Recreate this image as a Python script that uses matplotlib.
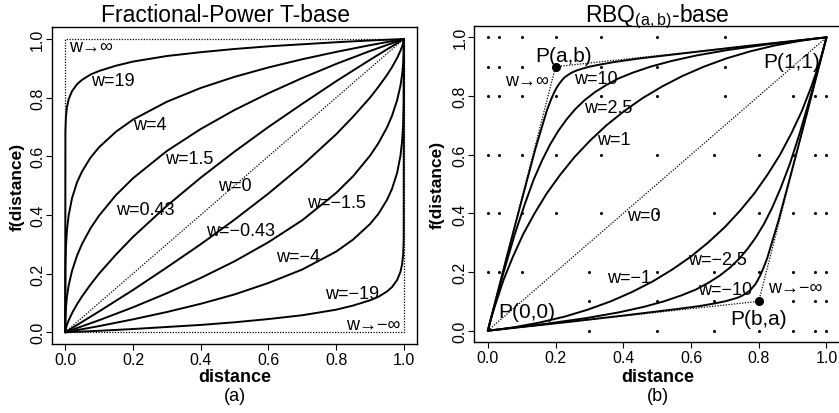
import matplotlib
matplotlib.use("Agg")
import matplotlib.pyplot as plt

plt.rcParams['font.family'] = ['Liberation Sans', 'DejaVu Sans']
plt.rcParams['mathtext.fontset'] = 'custom'
plt.rcParams['mathtext.rm'] = 'Liberation Sans'

#%% data

# (a) fractional-power curves, w >= 0
x_pos = [0, 0.0005, 0.002, 0.005, 0.01, 0.02, 0.035, 0.05, 0.075, 0.1, 0.15,
         0.2, 0.3, 0.4, 0.5, 0.6, 0.7, 0.8, 0.9, 1.0]
fp_w19 = [0, 0.684, 0.733, 0.767, 0.794, 0.822, 0.846, 0.861, 0.879, 0.891, 0.909,
          0.923, 0.942, 0.955, 0.966, 0.975, 0.982, 0.989, 0.995, 1]
fp_w4 = [0, 0.219, 0.289, 0.347, 0.398, 0.457, 0.512, 0.549, 0.596, 0.631, 0.684,
         0.725, 0.786, 0.833, 0.871, 0.903, 0.931, 0.956, 0.979, 1]
fp_w15 = [0, 0.048, 0.083, 0.120, 0.159, 0.209, 0.262, 0.302, 0.355, 0.398, 0.468,
          0.525, 0.618, 0.693, 0.758, 0.815, 0.867, 0.915, 0.959, 1]
fp_w043 = [0, 0.005, 0.013, 0.025, 0.040, 0.065, 0.096, 0.123, 0.163, 0.200, 0.265,
           0.325, 0.431, 0.527, 0.616, 0.700, 0.779, 0.856, 0.929, 1]

# (a) fractional-power curves, w < 0
x_neg = [0, 0.1, 0.2, 0.3, 0.4, 0.5, 0.6, 0.7, 0.8, 0.85, 0.9, 0.925, 0.95,
         0.965, 0.98, 0.99, 0.995, 0.998, 0.9995, 1]
fp_wm043 = [0, 0.071, 0.144, 0.221, 0.300, 0.384, 0.473, 0.569, 0.675, 0.735, 0.800,
            0.837, 0.877, 0.904, 0.935, 0.960, 0.975, 0.987, 0.995, 1]
fp_wm15 = [0, 0.041, 0.085, 0.133, 0.185, 0.242, 0.307, 0.382, 0.475, 0.532, 0.602,
           0.645, 0.698, 0.738, 0.791, 0.841, 0.880, 0.917, 0.952, 1]
fp_wm4 = [0, 0.021, 0.044, 0.069, 0.097, 0.129, 0.168, 0.214, 0.275, 0.316, 0.369,
          0.404, 0.451, 0.489, 0.543, 0.602, 0.653, 0.711, 0.781, 1]
fp_wm19 = [0, 0.005, 0.011, 0.018, 0.025, 0.034, 0.045, 0.058, 0.077, 0.091, 0.109,
           0.121, 0.139, 0.154, 0.178, 0.206, 0.233, 0.267, 0.316, 1]

# (b) RBQ curves through P(a,b)
rbq_w1_x = [0, 0.008, 0.022, 0.046, 0.074, 0.104, 0.138, 0.174, 0.214, 0.256, 0.302,
            0.350, 0.402, 0.456, 0.514, 0.574, 0.638, 0.704, 0.774, 0.846, 0.922, 0.968, 1]
rbq_w1_y = [0, 0.036, 0.088, 0.172, 0.252, 0.328, 0.400, 0.468, 0.532, 0.592, 0.648,
            0.700, 0.748, 0.792, 0.832, 0.868, 0.900, 0.928, 0.952, 0.972, 0.988, 0.996, 1]
rbq_w25_x = [0, 0.019, 0.044, 0.079, 0.109, 0.135, 0.160, 0.184, 0.208, 0.233, 0.258,
             0.286, 0.316, 0.349, 0.386, 0.429, 0.480, 0.541, 0.615, 0.709, 0.832, 0.926, 1]
rbq_w25_y = [0, 0.084, 0.189, 0.327, 0.431, 0.514, 0.580, 0.635, 0.681, 0.721, 0.755,
             0.786, 0.813, 0.837, 0.860, 0.880, 0.900, 0.919, 0.938, 0.957, 0.977, 0.990, 1]
rbq_w10_x = [0, 0.058, 0.104, 0.141, 0.162, 0.175, 0.186, 0.195, 0.203, 0.211, 0.219,
             0.227, 0.237, 0.248, 0.262, 0.278, 0.300, 0.330, 0.374, 0.447, 0.589, 0.768, 1]
rbq_w10_y = [0, 0.261, 0.462, 0.622, 0.703, 0.753, 0.786, 0.810, 0.828, 0.842, 0.854,
             0.864, 0.872, 0.880, 0.887, 0.893, 0.900, 0.907, 0.916, 0.928, 0.947, 0.971, 1]

# (b) RBQ curves through P(b,a)
rbq_wm1_x = [0, 0.032, 0.079, 0.154, 0.227, 0.296, 0.363, 0.426, 0.487, 0.544, 0.599,
             0.650, 0.699, 0.744, 0.787, 0.826, 0.863, 0.896, 0.927, 0.954, 0.979, 0.992, 1]
rbq_wm1_y = [0, 0.004, 0.012, 0.028, 0.048, 0.072, 0.100, 0.132, 0.168, 0.208, 0.252,
             0.300, 0.352, 0.408, 0.468, 0.532, 0.600, 0.672, 0.748, 0.828, 0.912, 0.964, 1]
rbq_wm25_x = [0, 0.074, 0.169, 0.291, 0.385, 0.460, 0.520, 0.571, 0.614, 0.651, 0.684,
              0.714, 0.742, 0.767, 0.792, 0.816, 0.840, 0.865, 0.892, 0.921, 0.956, 0.981, 1]
rbq_wm25_y = [0, 0.010, 0.023, 0.043, 0.062, 0.081, 0.100, 0.120, 0.140, 0.163, 0.187,
              0.214, 0.245, 0.279, 0.319, 0.365, 0.420, 0.487, 0.569, 0.673, 0.811, 0.916, 1]
rbq_wm10_x = [0, 0.232, 0.411, 0.553, 0.626, 0.670, 0.700, 0.722, 0.739, 0.752, 0.763,
              0.773, 0.781, 0.790, 0.797, 0.805, 0.814, 0.825, 0.838, 0.859, 0.896, 0.942, 1]
rbq_wm10_y = [0, 0.029, 0.053, 0.073, 0.084, 0.093, 0.100, 0.107, 0.113, 0.120, 0.128,
              0.136, 0.146, 0.158, 0.172, 0.190, 0.214, 0.247, 0.297, 0.378, 0.538, 0.739, 1]

# control points and limiting polylines
ctrl_ab = (0.2, 0.9)
ctrl_ba = (0.8, 0.1)
lim_pos_x = [0, 0.2, 1]
lim_pos_y = [0, 0.9, 1]
lim_neg_x = [0, 0.8, 1]
lim_neg_y = [0, 0.1, 1]

# background dot grid in (b), one list of x per row
dot_rows_y = [1.0, 0.9, 0.8, 0.6, 0.4, 0.2, 0.1, 0.0]
dot_rows_x = [
    [0, 1/30, 0.1, 0.2, 1/3, 0.5, 0.7],
    [0, 1/30, 0.1, 0.2, 1/3, 0.5, 0.7],
    [0, 1/30, 0.1, 0.2, 1/3, 0.5, 0.7, 0.9, 29/30, 1],
    [0, 1/30, 0.1, 0.2, 1/3, 0.5, 2/3, 0.8, 0.9, 29/30, 1],
    [0, 1/30, 0.1, 0.2, 1/3, 0.5, 2/3, 0.8, 0.9, 29/30, 1],
    [0, 1/30, 0.1, 0.3, 0.5, 2/3, 0.8, 0.9, 29/30, 1],
    [0.3, 0.5, 2/3, 0.8, 0.9, 29/30, 1],
    [0.3, 0.5, 2/3, 0.8, 0.9, 29/30, 1],
]

ticks = [0, 0.2, 0.4, 0.6, 0.8, 1.0]
tick_labels = ['0.0', '0.2', '0.4', '0.6', '0.8', '1.0']

#%% figure

fig = plt.figure(figsize=(8.39, 4.14), dpi=100)
ax1 = fig.add_axes([0.0616, 0.1667, 0.4359, 0.7650])
ax2 = fig.add_axes([0.5653, 0.1705, 0.4359, 0.7652])

solid = dict(color='black', lw=1.4, solid_capstyle='round')
dotted = dict(color='black', lw=0.9, linestyle=(0, (1, 1.2)))
lab = dict(fontsize=13, ha='center', va='center')


def style(ax):
    ax.set_xlim(-0.04, 1.04)
    ax.set_ylim(-0.04, 1.04)
    ax.set_xticks(ticks)
    ax.set_xticklabels(tick_labels)
    ax.set_yticks(ticks)
    ax.set_yticklabels(tick_labels, rotation=90, va='center')
    ax.tick_params(length=4.3, width=0.8, labelsize=11.5)
    ax.tick_params(axis='x', pad=1.5)
    ax.tick_params(axis='y', pad=0.6)
    for s in ax.spines.values():
        s.set_linewidth(1.0)


# (a) Fractional-Power T-base
style(ax1)
ax1.plot([0, 0, 1], [0, 1, 1], **dotted)
ax1.plot([0, 1, 1], [0, 0, 1], **dotted)
ax1.plot([0, 1], [0, 1], **dotted)
for ys in [fp_w19, fp_w4, fp_w15, fp_w043]:
    ax1.plot(x_pos, ys, **solid)
for ys in [fp_wm043, fp_wm15, fp_wm4, fp_wm19]:
    ax1.plot(x_neg, ys, **solid)

ax1.text(0.01, 0.975, 'w→∞', fontsize=13, ha='left', va='center')
ax1.text(0.14, 0.858, 'w=19', **lab)
ax1.text(0.249, 0.71, 'w=4', **lab)
ax1.text(0.365, 0.594, 'w=1.5', **lab)
ax1.text(0.50, 0.499, 'w=0', **lab)
ax1.text(0.237, 0.42, 'w=0.43', **lab)
ax1.text(0.802, 0.444, 'w=\u22121.5', **lab)
ax1.text(0.518, 0.346, 'w=\u22120.43', **lab)
ax1.text(0.688, 0.257, 'w=\u22124', **lab)
ax1.text(0.848, 0.131, 'w=\u221219', **lab)
ax1.text(0.99, 0.026, 'w→\u2212∞', fontsize=13, ha='right', va='center')

# (b) RBQ(a,b)-base
style(ax2)
for ry, rx in zip(dot_rows_y, dot_rows_x):
    ax2.plot(rx, [ry] * len(rx), 'o', color='black', ms=2.2, mew=0)
ax2.plot([0, 1], [0, 1], **dotted)
ax2.plot(lim_pos_x, lim_pos_y, **dotted)
ax2.plot(lim_neg_x, lim_neg_y, **dotted)
for xs, ys in [(rbq_w1_x, rbq_w1_y), (rbq_w25_x, rbq_w25_y), (rbq_w10_x, rbq_w10_y),
               (rbq_wm1_x, rbq_wm1_y), (rbq_wm25_x, rbq_wm25_y), (rbq_wm10_x, rbq_wm10_y)]:
    ax2.plot(xs, ys, **solid)
ax2.plot(*ctrl_ab, 'o', color='black', ms=5.5)
ax2.plot(*ctrl_ba, 'o', color='black', ms=5.5)

ax2.text(0.223, 0.937, 'P(a,b)', fontsize=15, ha='center', va='center')
ax2.text(0.117, 0.854, 'w→∞', **lab)
ax2.text(0.319, 0.861, 'w=10', **lab)
ax2.text(0.356, 0.762, 'w=2.5', **lab)
ax2.text(0.371, 0.653, 'w=1', **lab)
ax2.text(0.898, 0.916, 'P(1,1)', fontsize=15, ha='center', va='center')
ax2.text(0.46, 0.392, 'w=0', **lab)
ax2.text(0.417, 0.183, 'w=\u22121', **lab)
ax2.text(0.677, 0.244, 'w=\u22122.5', **lab)
ax2.text(0.701, 0.142, 'w=\u221210', **lab)
ax2.text(0.908, 0.146, 'w→\u2212∞', **lab)
ax2.text(0.115, 0.065, 'P(0,0)', fontsize=15, ha='center', va='center')
ax2.text(0.80, 0.043, 'P(b,a)', fontsize=15, ha='center', va='center')

# titles and axis labels
fig.text(0.2682, 0.9476, 'Fractional-Power T-base', fontsize=16.5, ha='center', va='baseline')
fig.text(0.7837, 0.9476, r'RBQ$_{\mathrm{(a,b)}}$-base', fontsize=16.5, ha='center', va='baseline')
fig.text(0.2797, 0.078, 'distance', fontsize=13, fontweight='bold', ha='center', va='baseline')
fig.text(0.7837, 0.078, 'distance', fontsize=13, fontweight='bold', ha='center', va='baseline')
fig.text(0.0205, 0.549, 'f(distance)', fontsize=12.5, fontweight='bold', rotation=90,
         ha='center', va='center')
fig.text(0.5215, 0.553, 'f(distance)', fontsize=12.5, fontweight='bold', rotation=90,
         ha='center', va='center')
fig.text(0.2797, 0.042, '(a)', fontsize=13, ha='center', va='center')
fig.text(0.7837, 0.042, '(b)', fontsize=13, ha='center', va='center')

fig.savefig('out.png', dpi=100)
